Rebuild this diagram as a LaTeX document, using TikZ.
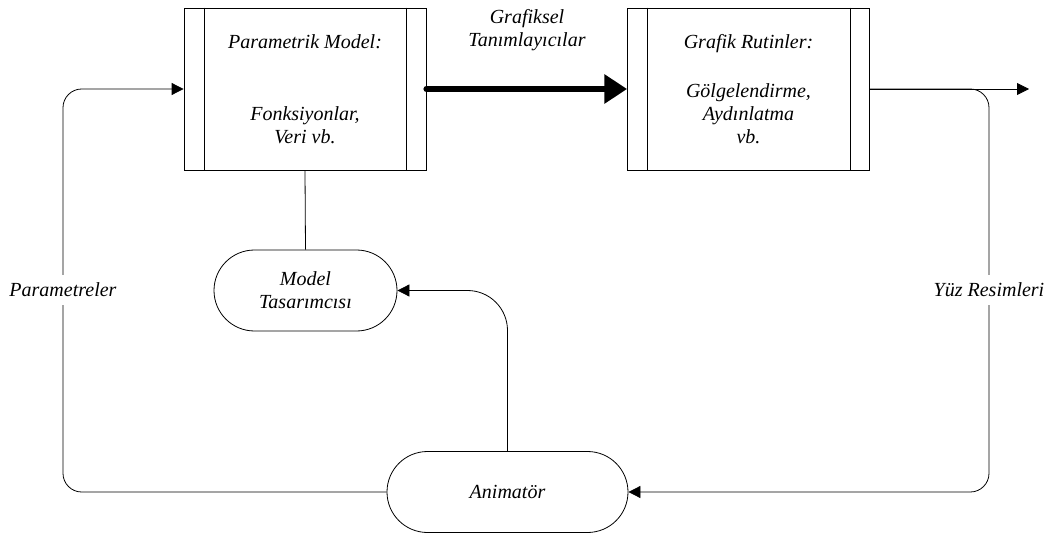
\documentclass[tikz,border=0pt]{standalone}
\usepackage{fontspec}
\setmainfont{Liberation Serif}
\usetikzlibrary{arrows.meta,shapes.misc}
\begin{document}
\begin{tikzpicture}[x=0.75pt,y=-0.75pt,
  every node/.style={font=\itshape\fontsize{15}{17.25}\selectfont},
  procbox/.style={draw,line width=0.6pt,minimum width=181.5pt,minimum height=121.5pt,align=center,inner sep=0pt},
  stadium/.style={draw,line width=0.6pt,rounded rectangle,minimum height=60.75pt,align=center,inner sep=0pt},
  conn/.style={line width=0.6pt},
  arr/.style={conn,-{Triangle[length=9pt,width=9pt]}},
  bigarr/.style={line width=4.5pt,line cap=round,-{Triangle[length=17pt,width=21pt]}},
  lbl/.style={fill=white,inner sep=2pt,minimum height=22.5pt}
]
\useasboundingbox (0,0) rectangle (1051,535);
% nodes
\node[procbox] (b1) at (305,89) {Parametrik Model:\\[36.75pt]Fonksiyonlar,\\Veri vb.};
\node[procbox] (b2) at (748.5,89) {Grafik Rutinler:\\[19.5pt]Gölgelendirme,\\Aydınlatma\\vb.};
\node[stadium,minimum width=137.25pt] (mt) at (305.5,290.5) {Model\\Tasarımcısı};
\node[stadium,minimum width=180.75pt] (anim) at (507.5,492) {Animatör};
% inner vertical lines of process boxes
\draw[conn] ([xshift=15.75pt]b1.north west) -- ([xshift=15.75pt]b1.south west);
\draw[conn] ([xshift=-15pt]b1.north east) -- ([xshift=-15pt]b1.south east);
\draw[conn] ([xshift=15pt]b2.north west) -- ([xshift=15pt]b2.south west);
\draw[conn] ([xshift=-15pt]b2.north east) -- ([xshift=-15pt]b2.south east);
% coordinates for connector routing
\coordinate (lc) at (63,89);
\coordinate (rc) at (989,89);
\coordinate (out) at (1029,89);
% connectors
\draw[bigarr] (b1.east) -- (b2.west);
\node[align=center] (gt) at (527,30.5) {Grafiksel\\Tanımlayıcılar};
\draw[conn] (b1.south) -- (mt.north);
\draw[arr,rounded corners=14pt] (anim.west) -| (lc) -- (b1.west);
\draw[arr,rounded corners=14pt] (b2.east) -- (rc) |- (anim.east);
\draw[arr] (b2.east) -- (out);
\draw[arr,rounded corners=30pt] (anim.north) |- (mt.east);
% labels on connectors
\node[lbl] (par) at (63,290) {Parametreler};
\node[lbl] (yuz) at (989,290) {Yüz Resimleri};
\end{tikzpicture}
\end{document}
